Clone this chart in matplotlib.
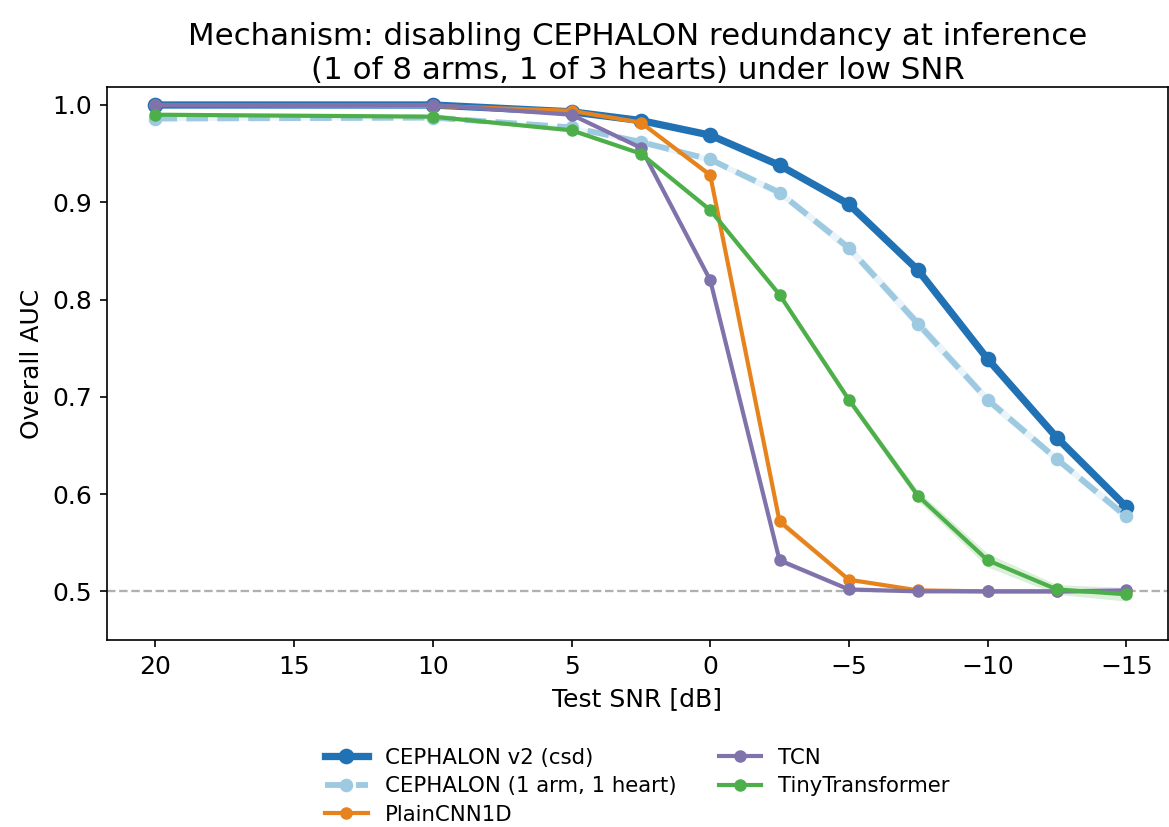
import numpy as np
import matplotlib.pyplot as plt

plt.rcParams['font.size'] = 12

# test SNR levels [dB]
snr = [20, 10, 5, 2.5, 0, -2.5, -5, -7.5, -10, -12.5, -15]

# mean overall AUC per model
auc_csd = [1.000, 1.000, 0.993, 0.984, 0.969, 0.938, 0.898, 0.830, 0.739, 0.658, 0.587]
auc_1arm = [0.986, 0.987, 0.977, 0.962, 0.944, 0.910, 0.853, 0.775, 0.697, 0.636, 0.577]
auc_cnn = [1.000, 0.999, 0.994, 0.982, 0.928, 0.572, 0.512, 0.501, 0.500, 0.500, 0.500]
auc_tcn = [1.000, 1.000, 0.990, 0.956, 0.820, 0.532, 0.502, 0.500, 0.500, 0.500, 0.501]
auc_tiny = [0.990, 0.988, 0.974, 0.950, 0.892, 0.805, 0.697, 0.598, 0.532, 0.502, 0.497]

# spread over seeds
std_csd = [0.000, 0.000, 0.001, 0.002, 0.002, 0.002, 0.003, 0.004, 0.003, 0.003, 0.004]
std_1arm = [0.002, 0.002, 0.002, 0.003, 0.003, 0.004, 0.005, 0.006, 0.005, 0.004, 0.005]
std_cnn = [0.000, 0.000, 0.001, 0.002, 0.003, 0.004, 0.002, 0.001, 0.001, 0.001, 0.001]
std_tcn = [0.000, 0.000, 0.001, 0.002, 0.004, 0.003, 0.002, 0.001, 0.001, 0.001, 0.002]
std_tiny = [0.001, 0.001, 0.002, 0.002, 0.003, 0.003, 0.004, 0.005, 0.007, 0.005, 0.007]

fig = plt.figure(figsize=(1169 / 150, 827 / 150), dpi=150)
ax = fig.add_axes([0.0915, 0.2261, 0.9075, 0.6687])

series = [
    ('CEPHALON v2 (csd)', auc_csd, std_csd, '#2171b5', 3.5, '-', 6.5),
    ('CEPHALON (1 arm, 1 heart)', auc_1arm, std_1arm, '#9ecae1', 2.8, '--', 5.5),
    ('PlainCNN1D', auc_cnn, std_cnn, '#e6831c', 2.0, '-', 5),
    ('TCN', auc_tcn, std_tcn, '#8073ac', 2.0, '-', 5),
    ('TinyTransformer', auc_tiny, std_tiny, '#4daf4a', 2.0, '-', 5),
]

x = np.array(snr)
for name, m, s, c, lw, ls, ms in series:
    m = np.array(m)
    s = np.array(s)
    ax.fill_between(x, m - s, m + s, color=c, alpha=0.2, linewidth=0)
    ax.plot(x, m, ls, color=c, lw=lw, marker='o', ms=ms, label=name)

ax.axhline(0.5, color='#b0b0b0', ls='--', lw=1.1, zorder=0)

ax.set_xlim(21.75, -16.5)
ax.set_ylim(0.45, 1.0185)
ax.set_xticks([20, 15, 10, 5, 0, -5, -10, -15])
ax.set_yticks([0.5, 0.6, 0.7, 0.8, 0.9, 1.0])
ax.set_xlabel('Test SNR [dB]')
ax.set_ylabel('Overall AUC')
ax.set_title('Mechanism: disabling CEPHALON redundancy at inference\n'
             '(1 of 8 arms, 1 of 3 hearts) under low SNR', fontsize=14.8, pad=4)

ax.legend(loc='upper center', bbox_to_anchor=(0.5, -0.16), ncol=2, frameon=False,
          fontsize=10.2, labelspacing=0.4)

fig.savefig('out.png', dpi=150)
